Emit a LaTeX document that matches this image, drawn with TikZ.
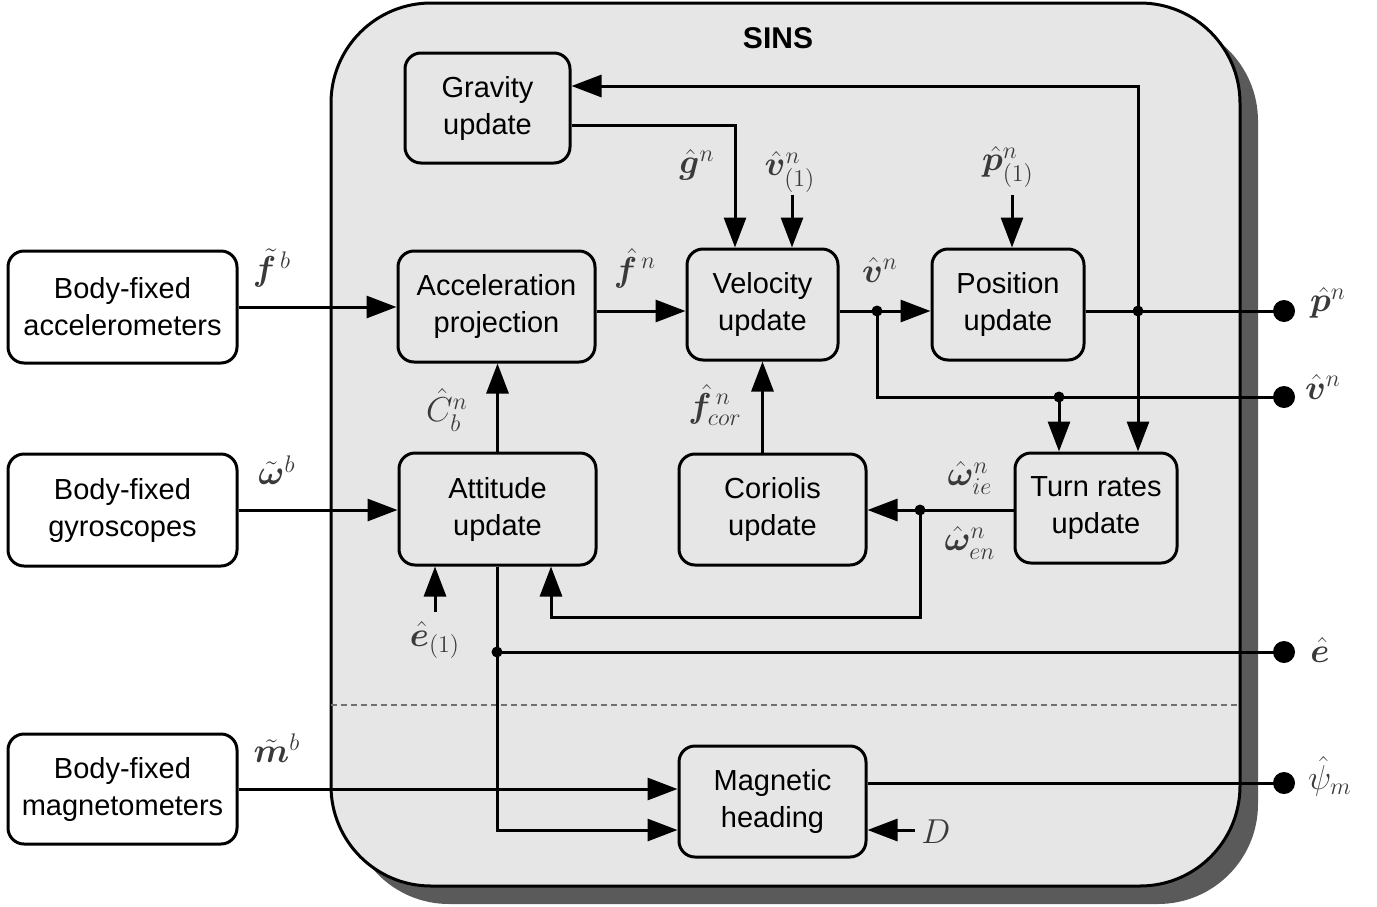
\documentclass[tikz,border=0pt]{standalone}
\usepackage{amsmath}
\usepackage{fontspec}
\usepackage{bm}
\setsansfont{Liberation Sans}
\usetikzlibrary{arrows.meta}
\definecolor{panel}{HTML}{E6E6E6}
\definecolor{shade}{HTML}{5A5A5A}
\definecolor{labelgray}{HTML}{3A3A3A}
\definecolor{dashgray}{HTML}{707070}
\newcommand{\boxfont}{\sffamily\fontsize{14.5}{18.5}\selectfont}
\newcommand{\symfont}{\fontsize{17}{19}\selectfont}
\begin{document}
\begin{tikzpicture}[x=0.5pt,y=-0.5pt,
  blk/.style={draw, line width=1.5pt, rounded corners=8pt, fill=panel, align=center, font=\boxfont, inner sep=0pt},
  ext/.style={blk, fill=white},
  ln/.style={line width=1.5pt},
  arr/.style={ln, -{Triangle[length=15pt,width=11pt]}},
  jdot/.style={circle, fill=black, inner sep=0pt, minimum size=5.5pt},
  tdot/.style={circle, fill=black, inner sep=0pt, minimum size=11pt},
  lbl/.style={text=labelgray, font=\symfont, inner sep=0pt}]
\useasboundingbox (0,0) rectangle (1377,906);

% SINS enclosure with its drop shadow
\node[fill=shade, rounded corners=50pt, minimum width=454.5pt, minimum height=441.5pt, inner sep=0pt] (sinsshadow) at (803.5,462.5) {};
\node[draw, line width=1.5pt, fill=panel, rounded corners=50pt, minimum width=454.5pt, minimum height=441.5pt, inner sep=0pt] (sins) at (785.5,444.5) {};
\node[font=\sffamily\bfseries\fontsize{15}{18}\selectfont] (title) at (778,38) {SINS};
\coordinate (dl) at (331,705);
\coordinate (dr) at (1240,705);
\draw[dashgray, line width=1.4pt, dash pattern=on 3pt off 2pt] (dl) -- (dr);

% sensor blocks
\node[ext, minimum width=114.5pt, minimum height=56pt] (acc) at (122.5,307) {Body-fixed\\accelerometers};
\node[ext, minimum width=114.5pt, minimum height=56pt] (gyr) at (122.5,510) {Body-fixed\\gyroscopes};
\node[ext, minimum width=114.5pt, minimum height=55pt] (magm) at (122.5,789) {Body-fixed\\magnetometers};

% processing blocks
\node[blk, minimum width=82.5pt, minimum height=55pt] (grav) at (487.5,108) {Gravity\\update};
\node[blk, minimum width=98.5pt, minimum height=55.5pt] (ap) at (496.5,306.5) {Acceleration\\projection};
\node[blk, minimum width=75.5pt, minimum height=55.5pt] (vel) at (762.5,304.5) {Velocity\\update};
\node[blk, minimum width=76pt, minimum height=55.5pt] (pos) at (1008,304.5) {Position\\update};
\node[blk, minimum width=98.5pt, minimum height=56pt] (att) at (497.5,509) {Attitude\\update};
\node[blk, minimum width=93.5pt, minimum height=55.5pt] (cor) at (772.5,509.5) {Coriolis\\update};
\node[blk, minimum width=81pt, minimum height=55pt] (turn) at (1096,508) {Turn rates\\update};
\node[blk, minimum width=93.5pt, minimum height=55.5pt] (mag) at (772.5,801.5) {Magnetic\\heading};

% routing points
\coordinate (j1) at (877,311);
\coordinate (j2) at (1138,311);
\coordinate (j3) at (1059,397);
\coordinate (j4) at (920,510);
\coordinate (j5) at (497,652);
\coordinate (gtop) at (1138,86);
\coordinate (gcor) at (735,125);
\coordinate (v1) at (792,195);
\coordinate (p1) at (1012,195);
\coordinate (fb1) at (920,617);
\coordinate (fb2) at (551,617);
\coordinate (e1) at (435,612);
\coordinate (mcor) at (497,830);
\coordinate (dsrc) at (915,830);
\coordinate (op) at (1284,311);
\coordinate (ov) at (1284,397);
\coordinate (oe) at (1284,652);
\coordinate (opsi) at (1284,783);

% signal flow
\draw[arr] (acc.east) -- (acc.east -| ap.west);
\draw[arr] (gyr.east) -- (gyr.east -| att.west);
\draw[arr] (magm.east) -- (magm.east -| mag.west);
\draw[arr] (ap.east |- j1) -- (vel.west |- j1);
\draw[arr] (vel.east |- j1) -- (pos.west |- j1);
\draw[ln] (pos.east |- j1) -- (op);
\draw[arr] (j2) -- (gtop) -- (grav.east |- gtop);
\draw[arr] (j2) -- (turn.north -| j2);
\draw[ln] (j1) -- (j1 |- ov) -- (ov);
\draw[arr] (j3) -- (turn.north -| j3);
\draw[arr] (grav.east |- gcor) -- (gcor) -- (vel.north -| gcor);
\draw[arr] (v1) -- (vel.north -| v1);
\draw[arr] (p1) -- (pos.north -| p1);
\draw[arr] (cor.north -| vel) -- (vel.south);
\draw[arr] (att.north) -- (att.north |- ap.south);
\draw[arr] (turn.west |- j4) -- (cor.east |- j4);
\draw[arr] (j4) -- (fb1) -- (fb2) -- (att.south -| fb2);
\draw[arr] (e1) -- (att.south -| e1);
\draw[arr] (att.south -| j5) -- (mcor) -- (mag.west |- mcor);
\draw[ln] (j5) -- (oe);
\draw[ln] (mag.east |- opsi) -- (opsi);
\draw[arr] (dsrc) -- (mag.east |- dsrc);

% junctions and outputs
\foreach \p in {j1,j2,j3,j4,j5} \node[jdot] at (\p) {};
\foreach \p in {op,ov,oe,opsi} \node[tdot] at (\p) {};

% signal labels
\node[lbl] (lf) at (272,268) {$\tilde{\bm f}^{\,b}$};
\node[lbl] (lw) at (277,470) {$\tilde{\bm\omega}^{b}$};
\node[lbl] (lm) at (277,748) {$\tilde{\bm m}^{b}$};
\node[lbl] (lc) at (447,410) {$\hat{C}^{n}_{b}$};
\node[lbl] (lfn) at (635,268) {$\hat{\bm f}^{\,n}$};
\node[lbl] (lg) at (697,165) {$\hat{\bm g}^{n}$};
\node[lbl] (lv1) at (790,172) {$\hat{\bm v}^{n}_{(1)}$};
\node[lbl] (lp1) at (1008,167) {$\hat{\bm p}^{n}_{(1)}$};
\node[lbl] (lvn) at (880,270) {$\hat{\bm v}^{n}$};
\node[lbl] (lcor) at (715,405) {$\hat{\bm f}^{\,n}_{cor}$};
\node[lbl] (lie) at (970,478) {$\hat{\bm\omega}^{n}_{ie}$};
\node[lbl] (len) at (970,543) {$\hat{\bm\omega}^{n}_{en}$};
\node[lbl] (le1) at (435,640) {$\hat{\bm e}_{(1)}$};
\node[lbl] (lop) at (1328,303) {$\hat{\bm p}^{n}$};
\node[lbl] (lov) at (1323,387) {$\hat{\bm v}^{n}$};
\node[lbl] (loe) at (1320,650) {$\hat{\bm e}$};
\node[lbl] (lopsi) at (1330,776) {$\hat{\psi}_{m}$};
\node[lbl] (ld) at (936,832) {$D$};
\end{tikzpicture}
\end{document}
